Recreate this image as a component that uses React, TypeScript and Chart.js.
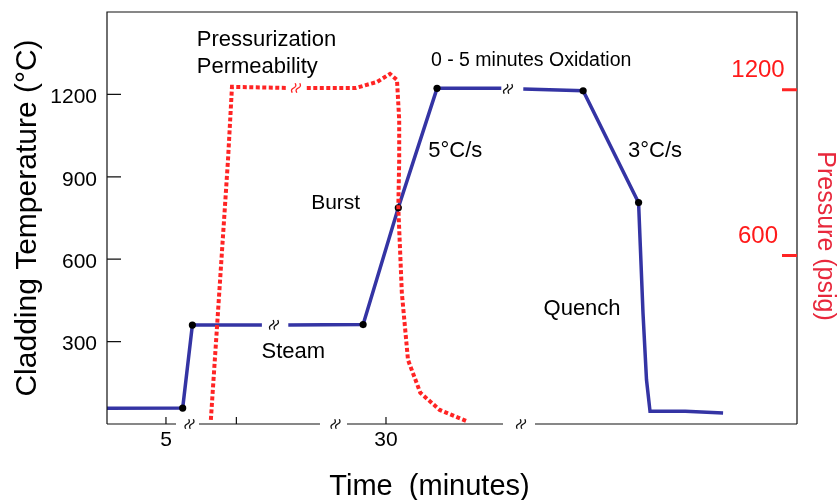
import React, { useEffect, useRef } from 'react';
import { Chart, registerables } from 'chart.js';

Chart.register(...registerables);

const FONT = "'Liberation Sans', Arial, Helvetica, sans-serif";
const BLUE = '#3434a4';
const RED = '#ff2424';
const RED_TEXT = '#ff1a1a';
const RED_TITLE = '#e8283c';

// Time axis (compressed minutes, axis has breaks)
const timeMin = -1.7;
const timeMax = 76.7;
const timeTickValues = [5, 13, 30];
const timeTickLabels = ['5', '', '30'];

// Temperature axis (°C)
const tempMin = 0;
const tempMax = 1500;
const tempTickValues = [300, 600, 900, 1200];

// Pressure axis (psig)
const pressMin = -10;
const pressMax = 1482;
const pressureTickValues = [600, 1200];

// Cladding temperature series
const tempTime = [-1.7, 6.9, 8.0, 15.9, 17.3, 18.9, 27.4, 31.4, 35.8, 43.1, 44.4, 45.6, 52.4, 58.7, 58.9, 59.2, 59.6, 60.0, 64.0, 68.3];
const tempC = [57, 58, 360, 360, null, 360, 362, 787, 1222, 1222, null, 1220, 1213, 806, 646, 405, 161, 46, 46, 40];
const tempMarkerIdx = [1, 2, 6, 7, 8, 12, 13];

// Pressure series
const pressTime = [10.1, 10.8, 12.05, 12.5, 18.86, 19.8, 21.0, 26.6, 29.0, 30.45, 31.25, 31.5, 31.5, 31.4, 31.8, 32.5, 33.9, 36.1, 39.2];
const pressPsig = [5, 342, 947, 1211, 1207, null, 1207, 1207, 1229, 1258, 1236, 1091, 947, 773, 465, 222, 103, 41, 0];

// Breaks on the time axis (from, to)
const axisBreaks = [[6.14, 8.75], [22.5, 25.57], [43.3, 46.93]];
const tempBreakMarks = [[17.27, 361], [43.86, 1220]];
const pressBreakMarks = [[19.77, 1207]];

// Annotations (time, temperature, text, size)
const noteText = ['Pressurization', 'Permeability', '0 - 5 minutes Oxidation', '5°C/s', '3°C/s', 'Burst', 'Steam', 'Quench'];
const noteTime = [8.5, 8.5, 35.1, 34.8, 57.5, 21.5, 15.85, 47.9];
const noteTemp = [1376, 1277, 1303, 971, 971, 782, 241, 398];
const noteSize = [22, 22, 19.5, 22, 22, 21, 22, 22];

function drawBreak(ctx: CanvasRenderingContext2D, cx: number, cy: number, color: string) {
  ctx.save();
  ctx.strokeStyle = color;
  ctx.lineWidth = 1.3;
  const th = 0.3;
  const ux = Math.sin(th), uy = -Math.cos(th);
  const nx = Math.cos(th), ny = Math.sin(th);
  for (const d of [-2.3, 2.3]) {
    ctx.beginPath();
    for (let i = 0; i <= 14; i++) {
      const t = -5 + (10 * i) / 14;
      const w = 1.4 * Math.sin((Math.PI * t) / 5);
      const px = cx + d + ux * t + nx * w;
      const py = cy + uy * t + ny * w;
      if (i === 0) ctx.moveTo(px, py);
      else ctx.lineTo(px, py);
    }
    ctx.stroke();
  }
  ctx.restore();
}

const overlay = {
  id: 'overlay',
  afterDraw(chart: any) {
    const { ctx, chartArea: a, scales } = chart;
    const xs = scales.x, ys = scales.y, y2 = scales.y2;
    ctx.save();
    // frame
    ctx.strokeStyle = '#111';
    ctx.lineWidth = 1.2;
    ctx.beginPath();
    ctx.moveTo(a.left, a.bottom);
    ctx.lineTo(a.left, a.top);
    ctx.lineTo(a.right, a.top);
    ctx.lineTo(a.right, a.bottom);
    let cur = a.left;
    for (const [f, t] of axisBreaks) {
      ctx.moveTo(cur, a.bottom);
      ctx.lineTo(xs.getPixelForValue(f), a.bottom);
      cur = xs.getPixelForValue(t);
    }
    ctx.moveTo(cur, a.bottom);
    ctx.lineTo(a.right, a.bottom);
    ctx.stroke();

    // inward ticks, left
    ctx.beginPath();
    for (const v of tempTickValues) {
      const y = ys.getPixelForValue(v);
      ctx.moveTo(a.left, y);
      ctx.lineTo(a.left + 14, y);
    }
    // inward ticks, bottom
    for (const v of timeTickValues) {
      const x = xs.getPixelForValue(v);
      ctx.moveTo(x, a.bottom);
      ctx.lineTo(x, a.bottom - 7);
    }
    ctx.stroke();

    // axis break marks
    for (const [f, t] of axisBreaks) {
      drawBreak(ctx, (xs.getPixelForValue(f) + xs.getPixelForValue(t)) / 2 + 2, a.bottom, '#111');
    }
    for (const [x, y] of tempBreakMarks) drawBreak(ctx, xs.getPixelForValue(x), ys.getPixelForValue(y), '#111');
    for (const [x, y] of pressBreakMarks) drawBreak(ctx, xs.getPixelForValue(x), y2.getPixelForValue(y), RED);

    // right pressure ticks + labels
    ctx.strokeStyle = RED;
    ctx.lineWidth = 3;
    ctx.beginPath();
    for (const v of pressureTickValues) {
      const y = y2.getPixelForValue(v);
      ctx.moveTo(a.right - 15, y);
      ctx.lineTo(a.right, y);
    }
    ctx.stroke();
    ctx.fillStyle = RED_TEXT;
    ctx.font = `24px ${FONT}`;
    ctx.textAlign = 'center';
    ctx.textBaseline = 'alphabetic';
    for (const v of pressureTickValues) {
      const y = y2.getPixelForValue(v);
      ctx.fillText(String(v), a.right - 39, y - 13);
    }

    // annotations
    ctx.fillStyle = '#000';
    ctx.textAlign = 'left';
    noteText.forEach((txt, i) => {
      ctx.font = `${noteSize[i]}px ${FONT}`;
      ctx.fillText(txt, xs.getPixelForValue(noteTime[i]), ys.getPixelForValue(noteTemp[i]));
    });

    // x title
    ctx.font = `29px ${FONT}`;
    ctx.textAlign = 'center';
    ctx.fillText('Time  (minutes)', 429.5, 495);

    // right title
    ctx.save();
    ctx.translate(818, 236);
    ctx.rotate(Math.PI / 2);
    ctx.fillStyle = RED_TITLE;
    ctx.font = `25px ${FONT}`;
    ctx.textAlign = 'center';
    ctx.textBaseline = 'alphabetic';
    ctx.fillText('Pressure (psig)', 0, 0);
    ctx.restore();

    ctx.restore();
  },
};

export default function App() {
  const ref = useRef<HTMLCanvasElement | null>(null);

  useEffect(() => {
    if (!ref.current) return;
    const tempData = tempTime.map((x, i) => ({ x, y: tempC[i] }));
    const pressData = pressTime.map((x, i) => ({ x, y: pressPsig[i] }));
    const chart = new Chart(ref.current, {
      type: 'line',
      data: {
        datasets: [
          {
            label: 'Pressure',
            data: pressData as any,
            yAxisID: 'y2',
            borderColor: RED,
            borderWidth: 4,
            borderDash: [4, 2.5],
            pointRadius: 0,
            tension: 0,
            spanGaps: false,
            order: 0,
          },
          {
            label: 'Cladding Temperature',
            data: tempData as any,
            yAxisID: 'y',
            borderColor: BLUE,
            borderWidth: 3.5,
            pointRadius: (c: any) => (tempMarkerIdx.includes(c.dataIndex) ? 3.6 : 0),
            pointBackgroundColor: '#000',
            pointBorderColor: '#000',
            pointBorderWidth: 0,
            tension: 0,
            spanGaps: false,
            order: 1,
          },
        ],
      },
      options: {
        animation: false,
        responsive: false,
        devicePixelRatio: 1,
        layout: { padding: { top: 12, right: 42, left: 0, bottom: 0 } },
        plugins: { legend: { display: false }, tooltip: { enabled: false } },
        scales: {
          x: {
            type: 'linear',
            min: timeMin,
            max: timeMax,
            position: 'bottom',
            grid: { display: false, drawTicks: false },
            border: { display: false },
            afterBuildTicks: (s: any) => {
              s.ticks = timeTickValues.map((v) => ({ value: v }));
            },
            afterFit: (s: any) => {
              s.height = 76;
              s.paddingLeft = 0;
              s.paddingRight = 0;
            },
            ticks: {
              autoSkip: false,
              maxRotation: 0,
              padding: 4,
              color: '#000',
              font: { family: FONT, size: 21 },
              callback: (_v: any, i: number) => timeTickLabels[i],
            },
          },
          y: {
            type: 'linear',
            min: tempMin,
            max: tempMax,
            position: 'left',
            grid: { display: false, drawTicks: false },
            border: { display: false },
            afterBuildTicks: (s: any) => {
              s.ticks = tempTickValues.map((v) => ({ value: v }));
            },
            afterFit: (s: any) => {
              s.width = 107;
              s.paddingTop = 0;
              s.paddingBottom = 0;
            },
            ticks: {
              padding: 10,
              labelOffset: 3,
              color: '#000',
              font: { family: FONT, size: 21 },
              callback: (v: any) => String(v),
            },
            title: {
              display: true,
              text: 'Cladding Temperature (°C)',
              color: '#000',
              font: { family: FONT, size: 30, lineHeight: 1 },
              padding: { top: 13, bottom: 0 },
            },
          },
          y2: {
            type: 'linear',
            min: pressMin,
            max: pressMax,
            position: 'right',
            display: false,
          },
        },
      },
      plugins: [overlay],
    });
    return () => chart.destroy();
  }, []);

  return (
    <div style={{ position: 'fixed', left: 0, top: 0, width: 839, height: 500, background: '#fff' }}>
      <canvas ref={ref} width={839} height={500} />
    </div>
  );
}
